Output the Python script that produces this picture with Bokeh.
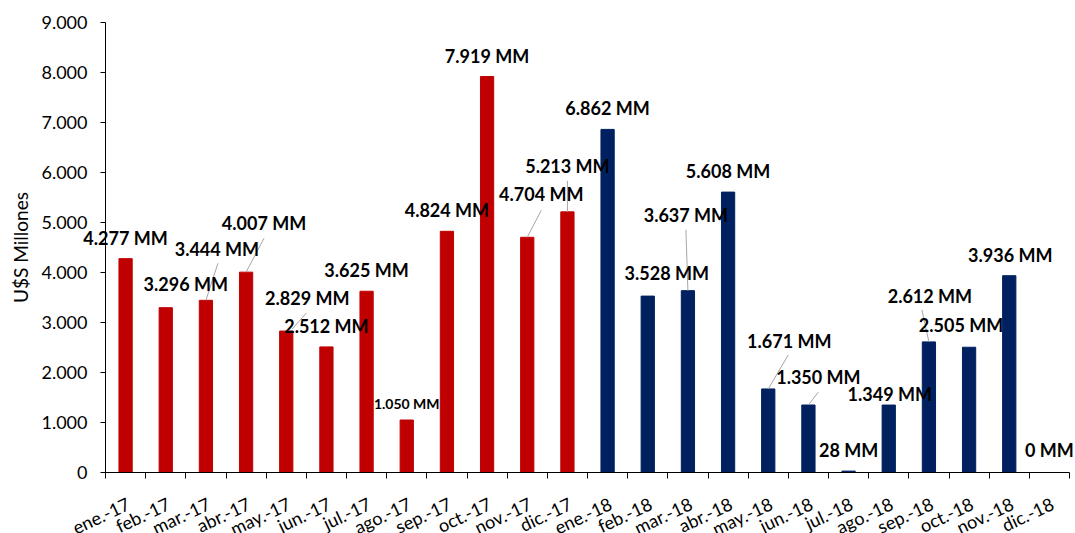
from bokeh.plotting import figure
from bokeh.models import Range1d, FixedTicker, ColumnDataSource, Label
from bokeh.embed import file_html
from bokeh.resources import INLINE

# ---------------- data ----------------
months = ["ene.-17", "feb.-17", "mar.-17", "abr.-17", "may.-17", "jun.-17",
          "jul.-17", "ago.-17", "sep.-17", "oct.-17", "nov.-17", "dic.-17",
          "ene.-18", "feb.-18", "mar.-18", "abr.-18", "may.-18", "jun.-18",
          "jul.-18", "ago.-18", "sep.-18", "oct.-18", "nov.-18", "dic.-18"]
values = [4277, 3296, 3444, 4007, 2829, 2512, 3625, 1050, 4824, 7919, 4704, 5213,
          6862, 3528, 3637, 5608, 1671, 1350, 28, 1349, 2612, 2505, 3936, 0]
value_labels = ["4.277 MM", "3.296 MM", "3.444 MM", "4.007 MM", "2.829 MM", "2.512 MM",
                "3.625 MM", "1.050 MM", "4.824 MM", "7.919 MM", "4.704 MM", "5.213 MM",
                "6.862 MM", "3.528 MM", "3.637 MM", "5.608 MM", "1.671 MM", "1.350 MM",
                "28 MM", "1.349 MM", "2.612 MM", "2.505 MM", "3.936 MM", "0 MM"]
years = ["2017"] * 12 + ["2018"] * 12
y_ticks = [0, 1000, 2000, 3000, 4000, 5000, 6000, 7000, 8000, 9000]
y_tick_labels = ["0", "1.000", "2.000", "3.000", "4.000", "5.000", "6.000", "7.000", "8.000", "9.000"]
y_title = "U$S Millones"

# ---------------- layout / style ----------------
W, H = 1075, 533
AX_L, AX_R, AX_T, AX_B = 105, 1069, 22, 472      # pixel box of the axes area
n = len(months)
y_lo, y_hi = y_ticks[0], y_ticks[-1]
PX_PER_X = (AX_R - AX_L) / n
UNITS_PER_PX_Y = (y_hi - y_lo) / (AX_B - AX_T)
year_color = {"2017": "#C00000", "2018": "#002060"}
MONTH_ANGLE = 0.44          # radians (~25 deg)
MONTH_DX, MONTH_DY = 3, -30  # pixel offset of month labels from the tick position

# label offsets in screen pixels (positive = up)
lab_dx = [0, 20, 11, 18, 21, 0, 0, 0, 0, 0, 14, 0,
          0, 19, -2, 0, 21, 10, 0, 1, 1, -8, 1, 0]
lab_dy = [21, 24, 51, 49, 33, 21, 21, 17, 21, 21, 43, 46,
          21, 23, 76, 21, 48, 28, 21, 11, 46, 22, 21, 23]
lab_fs = ["18px"] * n
lab_fs[7] = "14px"

# leader lines (pixel offsets from bar top center): index -> (x0, y0, x1, y1)
leaders = {2: (0, 0, 12, 37), 3: (0, 0, 18, 34), 4: (6, 2, 20, 18),
           10: (0, 0, 14, 27), 11: (0, 0, 0, 31), 14: (0, 0, -2, 61),
           16: (0, 0, 20, 34), 17: (0, 0, 10, 13), 20: (0, 0, -7, 32)}

xs = [i + 0.5 for i in range(n)]
src = ColumnDataSource(dict(x=xs, v=values, color=[year_color[y] for y in years]))

# the frame covers the whole canvas; axes are pinned at x=0 / y=0
x_range = Range1d(-AX_L / PX_PER_X, n + (W - AX_R) / PX_PER_X)
y_range = Range1d(y_lo - (H - AX_B) * UNITS_PER_PX_Y, y_hi + AX_T * UNITS_PER_PX_Y)

p = figure(width=W, height=H, x_range=x_range, y_range=y_range,
           output_backend="svg", toolbar_location=None,
           min_border=0, min_border_left=0, min_border_right=0,
           min_border_top=0, min_border_bottom=0)
p.outline_line_color = None
p.xgrid.grid_line_color = None
p.ygrid.grid_line_color = None
p.background_fill_color = "white"
p.border_fill_color = "white"

p.vbar(x="x", top="v", width=0.33, color="color", source=src)

# leader lines
lx0, ly0, lx1, ly1 = [], [], [], []
for i, (a, b, c, d) in leaders.items():
    lx0.append(xs[i] + a / PX_PER_X)
    ly0.append(values[i] + b * UNITS_PER_PX_Y)
    lx1.append(xs[i] + c / PX_PER_X)
    ly1.append(values[i] + d * UNITS_PER_PX_Y)
p.segment(x0=lx0, y0=ly0, x1=lx1, y1=ly1, line_color="#A6A6A6", line_width=1)

# value labels
for i in range(n):
    p.add_layout(Label(x=xs[i], y=values[i], text=value_labels[i],
                       x_offset=lab_dx[i], y_offset=lab_dy[i],
                       text_align="center", text_baseline="middle",
                       text_font="Lato", text_font_style="bold",
                       text_font_size=lab_fs[i], text_color="#000000"))

# month (category) labels, rotated
for i in range(n):
    p.add_layout(Label(x=xs[i], y=y_lo, text=months[i],
                       x_offset=MONTH_DX, y_offset=MONTH_DY, angle=MONTH_ANGLE,
                       text_align="right", text_baseline="middle",
                       text_font="Lato", text_font_size="18px", text_color="#000000"))

# x axis (line + ticks between categories)
xa = p.xaxis[0]
xa.fixed_location = y_lo
xa.bounds = (0, n)
xa.ticker = FixedTicker(ticks=[], minor_ticks=list(range(n + 1)))
xa.major_tick_line_color = None
xa.major_tick_in = 0
xa.major_tick_out = 0
xa.minor_tick_in = 0
xa.minor_tick_out = 6
xa.minor_tick_line_color = "black"
xa.axis_line_color = "black"
xa.major_label_text_font_size = "0px"

# y axis
ya = p.yaxis[0]
ya.fixed_location = 0
ya.bounds = (y_lo, y_hi)
ya.ticker = FixedTicker(ticks=y_ticks)
ya.major_label_overrides = {t: s for t, s in zip(y_ticks, y_tick_labels)}
ya.major_tick_in = 0
ya.major_tick_out = 5
ya.major_tick_line_color = "black"
ya.minor_tick_line_color = None
ya.axis_line_color = "black"
ya.major_label_standoff = 13
ya.axis_label = y_title
ya.axis_label_text_font = "Lato"
ya.axis_label_text_font_size = "19px"
ya.axis_label_text_font_style = "normal"
ya.axis_label_text_color = "#000000"
ya.axis_label_standoff = 6
ya.major_label_text_font = "Lato"
ya.major_label_text_font_size = "18px"
ya.major_label_text_color = "#000000"

open("out.html", "w").write(file_html(p, INLINE))
